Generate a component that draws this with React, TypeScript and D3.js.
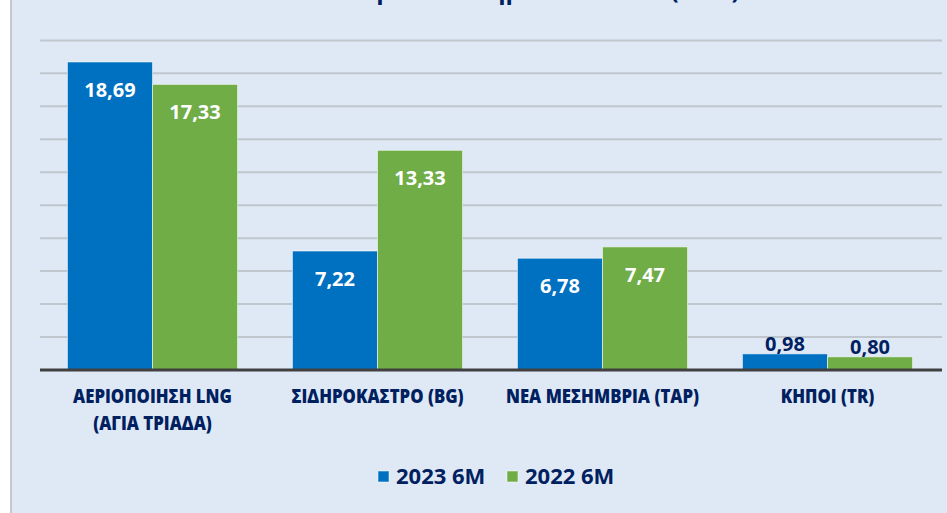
import React, { useEffect } from 'react';
import * as d3 from 'd3';

const categories = [
  ['ΑΕΡΙΟΠΟΙΗΣΗ LNG', '(ΑΓΙΑ ΤΡΙΑΔΑ)'],
  ['ΣΙΔΗΡΟΚΑΣΤΡΟ (BG)'],
  ['ΝΕΑ ΜΕΣΗΜΒΡΙΑ (TAP)'],
  ['ΚΗΠΟΙ (TR)'],
];
const seriesNames = ['2023 6M', '2022 6M'];
const values2023 = [18.69, 7.22, 6.78, 0.98];
const values2022 = [17.33, 13.33, 7.47, 0.8];
const yTicks = [2, 4, 6, 8, 10, 12, 14, 16, 18, 20];
const title = 'Φυσικό αέριο ανά σημείο εισόδου (TWh)';

const W = 947;
const H = 513;
const navy = '#002060';
const colors = ['#0070C0', '#70AD47'];
const numFont = "'Open Sans', 'Noto Sans', sans-serif";

export default function App() {
  useEffect(() => {
    document.body.style.margin = '0';
  }, []);

  const keys = categories.map((c) => c.join(' '));
  const x0 = d3.scaleBand<string>().domain(keys).range([40, 940]).paddingInner(0.244).paddingOuter(0.122);
  const x1 = d3.scaleBand<string>().domain(seriesNames).range([0, x0.bandwidth()]);
  const y = d3.scaleLinear().domain([0, 20]).range([370, 40.4]);
  const series = [values2023, values2022];
  const fmt = (v: number) => v.toFixed(2).replace('.', ',');

  return (
    <svg width={W} height={H} style={{ display: 'block' }}>
      <rect x={0} y={0} width={W} height={H} fill="#ffffff" />
      <rect x={12} y={0} width={W - 12} height={H} fill="#dee9f5" />
      <line x1={11} x2={11} y1={0} y2={H} stroke="#c4c7cc" strokeWidth={2} />

      <text x={495} y={-1} textAnchor="middle" fontFamily={numFont} fontWeight={700} fontSize={24} fill={navy}>
        {title}
      </text>

      {yTicks.map((t) => (
        <line key={t} x1={40} x2={942} y1={y(t)} y2={y(t)} stroke="#bfc6ce" strokeWidth={2} />
      ))}

      {keys.map((k, i) => (
        <g key={k} transform={`translate(${x0(k)},0)`}>
          {series.map((vals, s) => {
            const v = vals[i];
            const bx = x1(seriesNames[s])!;
            const top = y(v);
            const inside = y(0) - top > 40;
            return (
              <g key={s}>
                <rect
                  x={bx}
                  y={top}
                  width={x1.bandwidth()}
                  height={y(0) - top}
                  fill={colors[s]}
                  stroke="#ffffff"
                  strokeOpacity={0.55}
                  strokeWidth={1}
                />
                <text
                  x={bx + x1.bandwidth() / 2}
                  y={inside ? top + 35 : top - 3}
                  textAnchor="middle"
                  fontFamily={numFont}
                  fontWeight={700}
                  fontSize={20}
                  fill={inside ? '#ffffff' : navy}
                >
                  {fmt(v)}
                </text>
              </g>
            );
          })}
        </g>
      ))}

      <line x1={40} x2={942} y1={y(0)} y2={y(0)} stroke="#404040" strokeWidth={3} />

      {/* category labels: squeezed a bit to get the condensed look */}
      {categories.map((lines, i) => (
        <g key={i} transform={`translate(${x0(keys[i])! + x0.bandwidth() / 2},0) scale(0.86,1)`}>
          <text textAnchor="middle" fontFamily={numFont} fontWeight={800} fontSize={19.5} fill={navy}>
            {lines.map((l, j) => (
              <tspan key={j} x={0} y={403 + j * 27}>
                {l}
              </tspan>
            ))}
          </text>
        </g>
      ))}

      {seriesNames.map((name, s) => {
        const lx = [378, 507][s];
        return (
          <g key={name}>
            <rect x={lx} y={471} width={11} height={11} fill={colors[s]} stroke="#ffffff" strokeOpacity={0.5} />
            <text x={lx + 18} y={484} fontFamily={numFont} fontWeight={700} fontSize={22} fill={navy}>
              {name}
            </text>
          </g>
        );
      })}
    </svg>
  );
}
